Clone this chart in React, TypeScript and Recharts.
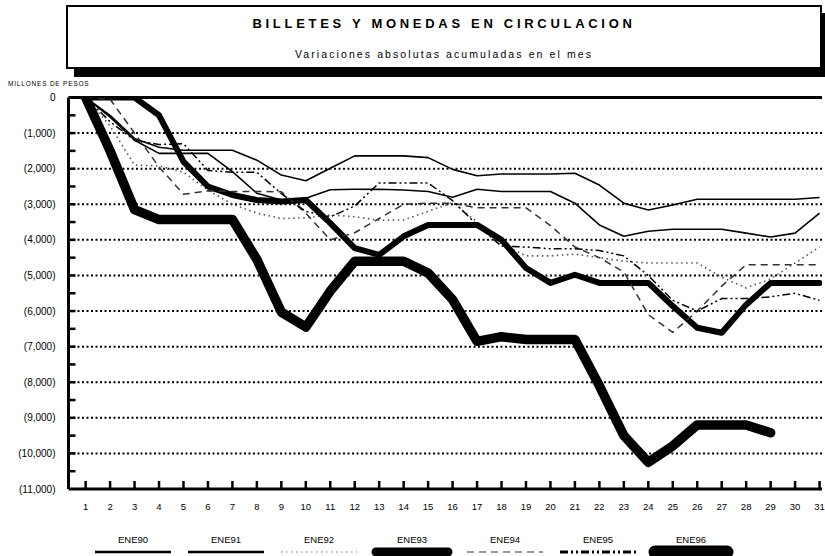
import React from "react";
import { LineChart, Line, XAxis, YAxis, ReferenceLine } from "recharts";

const days = [
  1, 2, 3, 4, 5, 6, 7, 8, 9, 10, 11, 12, 13, 14, 15, 16, 17, 18, 19, 20, 21,
  22, 23, 24, 25, 26, 27, 28, 29, 30, 31,
];

const ene90 = [
  0, -500, -1150, -1400, -1480, -1480, -1480, -1760, -2180, -2340, -1990,
  -1640, -1640, -1640, -1690, -2020, -2200, -2150, -2150, -2150, -2130, -2460,
  -2970, -3160, -3020, -2860, -2860, -2860, -2860, -2860, -2810,
];
const ene91 = [
  0, -550, -1200, -1570, -1570, -1570, -2080, -2690, -2880, -2830, -2590,
  -2580, -2580, -2600, -2640, -2800, -2580, -2640, -2640, -2640, -2970, -3580,
  -3900, -3760, -3700, -3700, -3700, -3810, -3920, -3810, -3250,
];
const ene92 = [
  0, -800, -1900, -1920, -2100, -2600, -3000, -3250, -3400, -3380, -3300,
  -3350, -3450, -3440, -3200, -2950, -3500, -4100, -4450, -4450, -4400, -4500,
  -4600, -4650, -4650, -4650, -5050, -5350, -5100, -4650, -4200,
];
const ene93 = [
  0, 0, 0, -500, -1800, -2500, -2740, -2880, -2920, -2880, -3530, -4230,
  -4420, -3900, -3580, -3580, -3580, -4000, -4790, -5210, -4980, -5210, -5210,
  -5210, -5860, -6470, -6610, -5820, -5210, -5210, -5210,
];
const ene94 = [
  0, -50, -1000, -1950, -2720, -2620, -2640, -2640, -2650, -3250, -4000,
  -3800, -3400, -3000, -2970, -2970, -3100, -3100, -3100, -3600, -4200, -4500,
  -4900, -6100, -6600, -6000, -5300, -4700, -4700, -4700, -4700,
];
const ene95 = [
  0, -680, -1200, -1320, -1300, -2050, -2100, -2100, -2700, -3200, -3350,
  -3050, -2400, -2400, -2400, -2900, -3580, -4180, -4200, -4250, -4250, -4300,
  -4450, -5000, -5700, -6000, -5650, -5650, -5600, -5500, -5700,
];
const ene96 = [
  0, -1500, -3150, -3430, -3430, -3430, -3430, -4550, -6030, -6450, -5440,
  -4600, -4600, -4600, -4930, -5680, -6850, -6720, -6800, -6800, -6800, -8100,
  -9500, -10250, -9790, -9200, -9200, -9200, -9420, null, null,
];

const seriesNames = ["ENE90", "ENE91", "ENE92", "ENE93", "ENE94", "ENE95", "ENE96"];
const seriesValues = [ene90, ene91, ene92, ene93, ene94, ene95, ene96];

const yTicks = [
  0, -500, -1000, -1500, -2000, -2500, -3000, -3500, -4000, -4500, -5000,
  -5500, -6000, -6500, -7000, -7500, -8000, -8500, -9000, -9500, -10000,
  -10500, -11000,
];
const gridValues = [
  -1000, -2000, -3000, -4000, -5000, -6000, -7000, -8000, -9000, -10000,
];

const data = days.map((d, i) => {
  const row: any = { day: d };
  seriesNames.forEach((n, j) => (row[n] = seriesValues[j][i]));
  return row;
});

// line look for each year, chart and legend
const styles: any = {
  ENE90: { stroke: "#000", w: 1.6, dash: undefined, lw: 2.5, ls: "#000" },
  ENE91: { stroke: "#000", w: 1.6, dash: undefined, lw: 2.5, ls: "#000" },
  ENE92: { stroke: "#555", w: 1.6, dash: "1.5 3.5", lw: 2, ls: "#bbb" },
  ENE93: { stroke: "#000", w: 6, dash: undefined, lw: 9, ls: "#000" },
  ENE94: { stroke: "#333", w: 1.5, dash: "7 5", lw: 2, ls: "#999" },
  ENE95: { stroke: "#000", w: 1.5, dash: "8 3 2 3 2 3", lw: 3, ls: "#000" },
  ENE96: { stroke: "#000", w: 9.5, dash: undefined, lw: 13, ls: "#000" },
};

const FONT = "'Liberation Sans', Arial, sans-serif";

const fmtY = (v: number) =>
  v === 0 ? "0" : "(" + Math.abs(v).toLocaleString("en-US") + ")";

const YTick = ({ x, y, payload }: any) => {
  const v = payload.value;
  const major = v % 1000 === 0;
  return (
    <g>
      {major && (
        <text
          x={x}
          y={y}
          dy="0.35em"
          textAnchor="end"
          fontSize={10}
          fontFamily={FONT}
          fill="#000"
        >
          {fmtY(v)}
        </text>
      )}
      {v !== 0 && v !== -11000 && (
        <line x1={x + 13} x2={x + 20} y1={y} y2={y} stroke="#000" strokeWidth={2.5} />
      )}
    </g>
  );
};

const XTick = ({ x, y, payload }: any) => (
  <g>
    <line x1={x} x2={x} y1={y - 14} y2={y - 22} stroke="#000" strokeWidth={2.5} />
    <text
      x={x}
      y={y}
      dy="0.71em"
      textAnchor="middle"
      fontSize={9.5}
      fontFamily={FONT}
      fill="#000"
    >
      {payload.value}
    </text>
  </g>
);

const LegendRow = () => (
  <svg
    width={825}
    height={36}
    style={{ position: "absolute", left: 0, top: 520 }}
  >
    {seriesNames.map((n, i) => {
      const cx = 133 + i * 93;
      const s = styles[n];
      const thick = s.lw > 5;
      return (
        <g key={n}>
          <text
            x={cx}
            y={20}
            dy="0.35em"
            textAnchor="middle"
            fontSize={9.5}
            fontFamily={FONT}
            fill="#000"
          >
            {n}
          </text>
          <line
            x1={cx - (thick ? 36 : 38)}
            x2={cx + (thick ? 36 : 38)}
            y1={32}
            y2={32}
            stroke={s.ls}
            strokeWidth={s.lw}
            strokeDasharray={s.dash}
            strokeLinecap={thick ? "round" : "butt"}
          />
        </g>
      );
    })}
  </svg>
);

export default function App() {
  return (
    <div
      style={{
        position: "absolute",
        left: 0,
        top: 0,
        width: 825,
        height: 556,
        overflow: "hidden",
        background: "#fff",
        fontFamily: FONT,
      }}
    >
      <LineChart
        width={825}
        height={556}
        data={data}
        margin={{ top: 97.5, right: 3, bottom: 37, left: 0 }}
      >
        <XAxis
          dataKey="day"
          type="number"
          domain={[0.3, 31.1]}
          ticks={days}
          interval={0}
          height={30}
          allowDataOverflow
          axisLine={{ stroke: "#000", strokeWidth: 3 }}
          tickLine={false}
          tickSize={0}
          tickMargin={14}
          tick={<XTick />}
        />
        <YAxis
          domain={[-11000, 0]}
          ticks={yTicks}
          interval={0}
          width={68.5}
          allowDataOverflow
          axisLine={{ stroke: "#000", strokeWidth: 3 }}
          tickLine={false}
          tickSize={0}
          tickMargin={13}
          tick={<YTick />}
        />
        {gridValues.map((v) => (
          <ReferenceLine
            key={v}
            y={v}
            stroke="#000"
            strokeWidth={2}
            strokeDasharray="2 2.5"
          />
        ))}
        <ReferenceLine y={0} stroke="#000" strokeWidth={3} />
        {seriesNames.map((n) => (
          <Line
            key={n}
            dataKey={n}
            type="linear"
            stroke={styles[n].stroke}
            strokeWidth={styles[n].w}
            strokeDasharray={styles[n].dash}
            strokeLinejoin="round"
            strokeLinecap={styles[n].w > 5 ? "round" : "butt"}
            dot={false}
            activeDot={false}
            isAnimationActive={false}
          />
        ))}
      </LineChart>

      <div
        style={{
          position: "absolute",
          left: 66,
          top: 5,
          width: 752,
          height: 60,
          border: "2px solid #000",
          background: "#fff",
          boxShadow: "8px 8px 0 #000",
          textAlign: "center",
        }}
      >
        <div
          style={{
            marginTop: 9,
            fontSize: 13,
            fontWeight: "bold",
            letterSpacing: 3.7,
          }}
        >
          BILLETES Y MONEDAS EN CIRCULACION
        </div>
        <div style={{ marginTop: 17, fontSize: 10.5, letterSpacing: 2.1 }}>
          Variaciones absolutas acumuladas en el mes
        </div>
      </div>
      <div
        style={{
          position: "absolute",
          left: 8,
          top: 80,
          fontSize: 6.5,
          letterSpacing: 0.8,
        }}
      >
        MILLONES DE PESOS
      </div>
      <LegendRow />
    </div>
  );
}
